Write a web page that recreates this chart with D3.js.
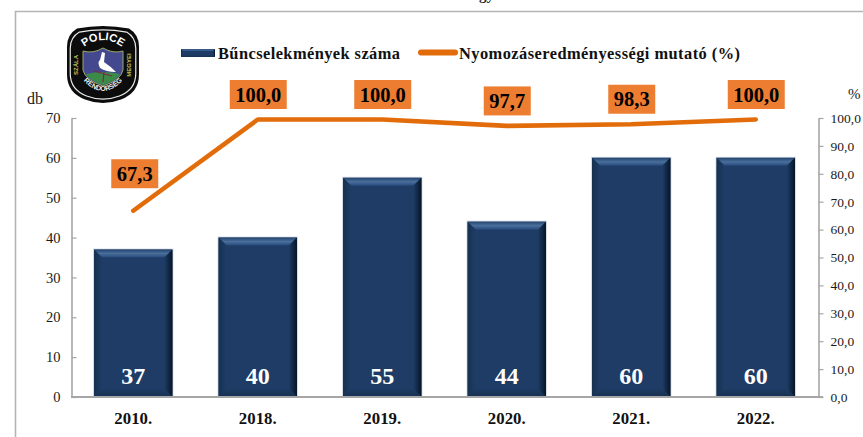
<!DOCTYPE html>
<html lang="hu"><head><meta charset="utf-8">
<script src="https://cdn.jsdelivr.net/npm/d3@7"></script>
<style>html,body{margin:0;padding:0;background:#fff;overflow:hidden}svg{display:block}
text{font-family:"Liberation Serif","Times New Roman",serif}</style></head><body>
<svg id="c" width="863" height="437"></svg>
<script>
const years = ["2010.","2018.","2019.","2020.","2021.","2022."];
const crimes = [37,40,55,44,60,60];
const rates = [67.3,100,100,97.7,98.3,100];
const rateLabels = ["67,3","100,0","100,0","97,7","98,3","100,0"];
const leftTicks = [0,10,20,30,40,50,60,70];
const rightTicks = [0,10,20,30,40,50,60,70,80,90,100];
const seriesNames = ["Bűncselekmények száma","Nyomozáseredményességi mutató (%)"];

const svg = d3.select("#c");
const x = d3.scaleBand().domain(years).range([71,818]).paddingInner(.37).paddingOuter(.185);
const yL = d3.scaleLinear().domain([0,70]).range([397,118]);
const yR = d3.scaleLinear().domain([0,100]).range([397,118]);
const cx = d => x(d)+x.bandwidth()/2;
const grey="#a6a6a6", orange="#e36c0a", box="#ed7d31";

// frame and clipped title remnant
svg.append("path").attr("d","M15.5 437V11.5H863").attr("fill","none").attr("stroke","#b4b4b4").attr("stroke-width",1.6);
svg.append("text").attr("x",479).attr("y",-0.5).attr("font-size",15).attr("font-weight",700).attr("fill","#222").text("gy");

// gradients
const defs=svg.append("defs");
function grad(id,x2,y2,stops){const g=defs.append("linearGradient").attr("id",id).attr("x1",0).attr("y1",0).attr("x2",x2).attr("y2",y2);
 stops.forEach(s=>g.append("stop").attr("offset",s[0]).attr("stop-color",s[1]));}
grad("gt",0,1,[[0,"#23446f"],[.5,"#4a6f9c"],[1,"#26497a"]]);
grad("gb",0,1,[[0,"#1d3b63"],[1,"#16304f"]]);
grad("gl",1,0,[[0,"#16304f"],[1,"#1e3d66"]]);
grad("gr",1,0,[[0,"#1d3b63"],[.6,"#0f2540"],[1,"#061426"]]);

// bars with bevel
function bevel(g,l,t,w,h,b){
 const r=l+w, bt=t+h;
 g.append("rect").attr("x",l).attr("y",t).attr("width",w).attr("height",h).attr("fill","#1e3c65");
 g.append("polygon").attr("points",`${l},${t} ${r},${t} ${r-b},${t+b} ${l+b},${t+b}`).attr("fill","url(#gt)");
 g.append("polygon").attr("points",`${l},${t} ${l+b},${t+b} ${l+b},${bt-b} ${l},${bt}`).attr("fill","url(#gl)");
 g.append("polygon").attr("points",`${r},${t} ${r-b},${t+b} ${r-b},${bt-b} ${r},${bt}`).attr("fill","url(#gr)");
 g.append("polygon").attr("points",`${l},${bt} ${l+b},${bt-b} ${r-b},${bt-b} ${r},${bt}`).attr("fill","url(#gb)");
}
years.forEach((d,i)=>{
 const g=svg.append("g");
 g.append("rect").attr("x",x(d)-.5).attr("y",yL(crimes[i])-.5).attr("width",x.bandwidth()+1).attr("height",yL(0)-yL(crimes[i])+.5).attr("fill","none").attr("stroke","#d5dbe3").attr("stroke-width",1);
 bevel(g,x(d),yL(crimes[i]),x.bandwidth(),yL(0)-yL(crimes[i]),8);
});

// axes
const ax=(sel)=>{sel.select(".domain").attr("stroke",grey).attr("stroke-width",1.6);
 sel.selectAll(".tick line").attr("stroke",grey).attr("stroke-width",1.2);
 sel.selectAll("text").attr("fill","#1a1a1a").style("font-family",'"Liberation Serif",serif');};
const aL=svg.append("g").attr("transform","translate(71.5,0)")
 .call(d3.axisLeft(yL).tickValues(leftTicks).tickSize(-5).tickSizeOuter(0).tickPadding(11));
ax(aL);aL.selectAll("text").attr("font-size",14.5);
const aR=svg.append("g").attr("transform","translate(818.5,0)")
 .call(d3.axisRight(yR).tickValues(rightTicks).tickSize(5).tickSizeOuter(0).tickPadding(7).tickFormat(d=>d3.format(".1f")(d).replace(".",",")));
ax(aR);aR.selectAll("text").attr("font-size",13.5);
svg.append("line").attr("x1",71).attr("x2",823).attr("y1",397).attr("y2",397).attr("stroke",grey).attr("stroke-width",2);

// bar values, categories
svg.selectAll(".bv").data(years).join("text").attr("x",cx).attr("y",384).attr("text-anchor","middle")
 .attr("font-size",24).attr("font-weight",700).attr("fill","#fff").text((d,i)=>crimes[i]);
svg.selectAll(".cat").data(years).join("text").attr("x",cx).attr("y",423.5).attr("text-anchor","middle")
 .attr("font-size",16.8).attr("font-weight",700).attr("fill","#111").text(d=>d);

// line
const line=d3.line().x(d=>cx(d.y)).y(d=>yR(d.v));
const pts=years.map((y,i)=>({y,v:rates[i]}));
svg.append("path").attr("transform","translate(0,1.5)").attr("d",line(pts)).attr("fill","none").attr("stroke",orange).attr("stroke-width",4.6).attr("stroke-linecap","round").attr("stroke-linejoin","round");

// line labels
years.forEach((d,i)=>{
 const w=rateLabels[i].length>4?57:47, up=i===0?35.5:23.5, c=yR(rates[i])-up;
 const xc=cx(d)+(i===0?1.5:.5);
 svg.append("rect").attr("x",xc-w/2).attr("y",c-14.5).attr("width",w).attr("height",29).attr("fill",box);
 svg.append("text").attr("x",xc).attr("y",c+7).attr("text-anchor","middle").attr("font-size",20.5).attr("font-weight",700).attr("fill","#000").text(rateLabels[i]);
});

// units
svg.append("text").attr("x",27).attr("y",104).attr("font-size",16).attr("fill","#1a1a1a").text("db");
svg.append("text").attr("x",848).attr("y",99).attr("font-size",15).attr("fill","#1a1a1a").text("%");

// legend
bevel(svg.append("g"),181,49,34,8,2);
svg.append("text").attr("x",218).attr("y",58.5).attr("font-size",16.4).attr("font-weight",700).attr("fill","#111").attr("textLength",182).text(seriesNames[0]);
svg.append("line").attr("x1",421).attr("x2",455).attr("y1",52.5).attr("y2",52.5).attr("stroke",orange).attr("stroke-width",6).attr("stroke-linecap","round");
svg.append("text").attr("x",459).attr("y",58.5).attr("font-size",16.4).attr("font-weight",700).attr("fill","#111").attr("textLength",281).text(seriesNames[1]);

// police badge
const b=svg.append("g");
const badge=(sx,sy)=>{const X=v=>103+v*sx,Y=v=>64.5+v*sy;
 return `M${X(-26)} ${Y(-36)}Q${X(0)} ${Y(-41)} ${X(26)} ${Y(-36)}Q${X(36)} ${Y(-30)} ${X(36)} ${Y(-18)}L${X(36)} ${Y(10)}Q${X(36)} ${Y(28)} ${X(18)} ${Y(35)}Q${X(0)} ${Y(42)} ${X(-18)} ${Y(35)}Q${X(-36)} ${Y(28)} ${X(-36)} ${Y(10)}L${X(-36)} ${Y(-18)}Q${X(-36)} ${Y(-30)} ${X(-26)} ${Y(-36)}Z`;};
b.append("path").attr("d",badge(1,1)).attr("fill","#0c0c0c");
b.append("path").attr("d",badge(.91,.9)).attr("fill","none").attr("stroke","#e8e8e8").attr("stroke-width",1.2);
defs.append("path").attr("id","arcT").attr("d","M76 54Q103 26 130 54");
defs.append("path").attr("id","arcB").attr("d","M78 74Q103 108 128 74");
b.append("text").attr("font-size",11).attr("font-weight",700).attr("fill","#fff").attr("text-anchor","middle").style("font-family",'"Liberation Sans",sans-serif')
 .append("textPath").attr("href","#arcT").attr("startOffset","50%").text("POLICE");
b.append("text").attr("font-size",7).attr("font-weight",700).attr("fill","#eee").attr("text-anchor","middle").style("font-family",'"Liberation Sans",sans-serif')
 .append("textPath").attr("href","#arcB").attr("startOffset","50%").text("RENDŐRSÉG");
b.append("text").attr("transform","translate(78,65) rotate(-90)").attr("font-size",6).attr("text-anchor","middle").attr("font-weight",700).attr("fill","#c9c35a").style("font-family",'"Liberation Sans",sans-serif').text("SZÁLA");
b.append("text").attr("transform","translate(131,65) rotate(-90)").attr("font-size",6).attr("text-anchor","middle").attr("font-weight",700).attr("fill","#c9c35a").style("font-family",'"Liberation Sans",sans-serif').text("MEGYEI");
b.append("path").attr("d","M83 51Q93 54 103 48Q113 54 123 51L123 70Q121 80 103 86Q85 80 83 70Z").attr("fill","#43488f").attr("stroke","#9aa66a").attr("stroke-width",1);
b.append("path").attr("d","M86 74Q103 70 120 74Q116 81 103 85Q90 81 86 74Z").attr("fill","#3c8a48");
b.append("path").attr("d","M102 52L105 53L104 62Q110 66 116 72Q106 72 100 68Q97 62 100 60Z").attr("fill","#fff");
b.append("path").attr("d","M94 71L112 76M104 72L103 82").attr("stroke","#7a2a4a").attr("stroke-width",1.2).attr("fill","none");
</script>
</body></html>
